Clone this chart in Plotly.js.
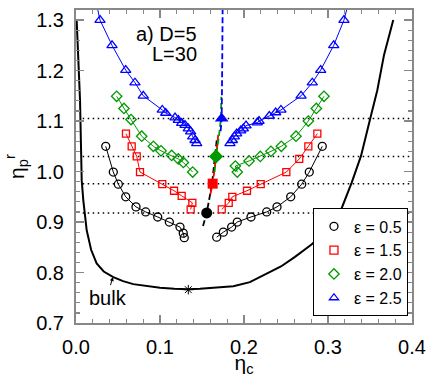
<!DOCTYPE html>
<html>
<head>
<meta charset="utf-8">
<script src="https://cdn.plot.ly/plotly-3.0.1.min.js"></script>
<style>html,body{margin:0;padding:0;background:#fff;}#chart{width:427px;height:377px;}</style>
</head>
<body>
<div id="chart"></div>
<script>
// ---- data ----
const bulkX = [0.0008,0.0025,0.0048,0.0068,0.0087,0.0127,0.0180,0.0246,0.0330,0.0444,0.0560,0.0682,0.0850,0.100,0.1170,0.1337,0.1476,0.1680,0.1873,0.207,0.227,0.2440,0.2607,0.2800,0.2976,0.3143,0.3282,0.3393,0.350,0.3587,0.3667,0.3777];
const bulkY = [1.300,1.220,1.141,0.983,0.943,0.884,0.845,0.818,0.802,0.791,0.783,0.777,0.773,0.770,0.768,0.767,0.768,0.770,0.773,0.781,0.798,0.812,0.831,0.855,0.880,0.919,0.978,1.031,1.103,1.161,1.231,1.300];
const bulkMinX = [0.1337];
const bulkMinY = [0.766];

// eps = 0.5
const e05LeftX = [0.0354,0.0444,0.0504,0.0592,0.0714,0.0830,0.0973,0.1111,0.1238,0.1277,0.1289];
const e05LeftY = [1.050,0.999,0.975,0.950,0.930,0.920,0.910,0.900,0.890,0.878,0.869];
const e05RightX = [0.2932,0.2777,0.2687,0.2556,0.2393,0.2270,0.2083,0.1920,0.1853,0.1754,0.1675];
const e05RightY = [1.050,0.999,0.975,0.950,0.930,0.920,0.910,0.900,0.890,0.880,0.870];
// eps = 1.5
const e15LeftX = [0.0595,0.0663,0.0723,0.0762,0.1027,0.1167,0.1258,0.1385,0.1365];
const e15LeftY = [1.075,1.050,1.030,0.999,0.975,0.962,0.952,0.938,0.925];
const e15RightX = [0.2873,0.2766,0.2658,0.2504,0.2199,0.2036,0.1861,0.1818,0.1735];
const e15RightY = [1.075,1.050,1.025,0.999,0.975,0.962,0.950,0.938,0.925];
// eps = 2.0
const e20LeftX = [0.0484,0.0571,0.0655,0.0782,0.0921,0.1012,0.1139,0.1218,0.1278,0.1389];
const e20LeftY = [1.149,1.125,1.103,1.070,1.050,1.041,1.032,1.025,1.018,0.999];
const e20RightX = [0.2952,0.2861,0.2766,0.2619,0.2444,0.2321,0.2194,0.2060,0.1897,0.1920];
const e20RightY = [1.149,1.125,1.100,1.070,1.050,1.040,1.030,1.021,1.011,0.999];
// eps = 2.5
const e25LeftX = [0.022,0.0286,0.0429,0.0592,0.0702,0.0801,0.1027,0.1068,0.1179,0.1218,0.1258,0.1298,0.1337,0.1365,0.1389,0.1417,0.1437];
const e25LeftY = [1.350,1.300,1.250,1.201,1.176,1.150,1.122,1.116,1.107,1.102,1.096,1.092,1.085,1.079,1.069,1.062,1.056];
const e25RightX = [0.327,0.319,0.3068,0.2913,0.2813,0.2679,0.2440,0.2377,0.2301,0.2179,0.2158,0.2024,0.1992,0.1961,0.1913,0.1885,0.1861,0.1833];
const e25RightY = [1.350,1.300,1.250,1.201,1.176,1.150,1.122,1.117,1.110,1.100,1.097,1.091,1.085,1.081,1.075,1.069,1.062,1.056];

// critical points (filled) and dashed lines
const critX = [0.1556,0.1627,0.1667,0.1734];
const critY = [0.918,0.976,1.030,1.105];
const c05X = [0.1512,0.1556,0.1619,0.1675], c05Y = [0.892,0.918,0.975,1.062];
const c15X = [0.1600,0.1627,0.1670,0.1694], c15Y = [0.955,0.976,1.030,1.075];
const c20X = [0.1650,0.1667,0.1705,0.1726,0.1730], c20Y = [1.000,1.030,1.075,1.105,1.148];
const c25X = [0.1722,0.1734,0.1740,0.1746], c25Y = [1.080,1.105,1.200,1.330];
const dotX = [0.008, 0.4];

const epsLabels = ['ε = 0.5','ε = 1.5','ε = 2.0','ε = 2.5'];
const colors = ['#000000','#ff0000','#009900','#0000ff'];
const symbols = ['circle-open','square-open','diamond-open','triangle-up-open'];
const filledSymbols = ['circle','square','diamond','triangle-up'];

const traces = [];
const FONT = 'Liberation Sans, Arial, sans-serif';

// dotted horizontals
critY.forEach(function(y){
  traces.push({x: dotX, y: [y, y], mode: 'lines', showlegend: false, hoverinfo: 'skip',
    line: {color: '#000', width: 1.5, dash: '1.5px,3.5px'}});
});

// bulk curve
traces.push({x: bulkX, y: bulkY, mode: 'lines', showlegend: false, line: {color: '#000', width: 2}});
traces.push({x: bulkMinX, y: bulkMinY, mode: 'markers', showlegend: false,
  marker: {symbol: 'asterisk-open', size: 8, color: '#000', line: {color: '#000', width: 1}}});

const branches = [
  [e05LeftX,e05LeftY,e05RightX,e05RightY],
  [e15LeftX,e15LeftY,e15RightX,e15RightY],
  [e20LeftX,e20LeftY,e20RightX,e20RightY],
  [e25LeftX,e25LeftY,e25RightX,e25RightY]
];
const sizes = [8,7,8,9];
branches.forEach(function(b, i){
  [[b[0],b[1]],[b[2],b[3]]].forEach(function(p){
    traces.push({x: p[0], y: p[1], mode: 'lines+markers', showlegend: false,
      line: {color: colors[i], width: 1},
      marker: {symbol: symbols[i], size: sizes[i], color: colors[i], line: {color: colors[i], width: 1.3}}});
  });
});

// dashed critical lines
[[c05X,c05Y],[c15X,c15Y],[c20X,c20Y],[c25X,c25Y]].forEach(function(c, i){
  traces.push({x: c[0], y: c[1], mode: 'lines', showlegend: false,
    line: {color: colors[i], width: 1.8, dash: '6px,3px'}});
});
// filled critical points
critX.forEach(function(x, i){
  traces.push({x: [x], y: [critY[i]], mode: 'markers', showlegend: false,
    marker: {symbol: filledSymbols[i], size: [11,10,11,12][i], color: colors[i]}});
});

// legend-only entries
epsLabels.forEach(function(lab, i){
  traces.push({x: [null], y: [null], mode: 'markers', name: lab,
    marker: {symbol: symbols[i], size: 8, color: colors[i], line: {color: colors[i], width: 1.3}}});
});

const axisCommon = {
  showline: true, linecolor: '#888', linewidth: 2, mirror: 'allticks',
  ticks: 'inside', ticklen: 8, tickwidth: 1.5, tickcolor: '#888',
  showgrid: false, zeroline: false, tickformat: '.1f',
  tickfont: {family: FONT, size: 20, color: '#000'}
};

const layout = {
  width: 427, height: 377,
  margin: {l: 76, r: 15, t: 10, b: 54},
  paper_bgcolor: '#fff', plot_bgcolor: '#fff',
  font: {family: FONT, color: '#000'},
  showlegend: true,
  xaxis: Object.assign({}, axisCommon, {
    range: [0, 0.4], dtick: 0.1, tick0: 0,
    minor: {dtick: 0.02, ticks: 'inside', ticklen: 4, tickwidth: 1.2, tickcolor: '#888'},
    ticklabelstandoff: 5,
    title: {text: 'η<sub>c</sub>', font: {family: FONT, size: 21}, standoff: 8}
  }),
  yaxis: Object.assign({}, axisCommon, {
    range: [0.7, 1.32], dtick: 0.1, tick0: 0.7,
    minor: {dtick: 0.02, ticks: 'inside', ticklen: 4, tickwidth: 1.2, tickcolor: '#888'},
    ticklabelstandoff: 6,
    title: {text: 'η<sub>p</sub><sup>r</sup>', font: {family: FONT, size: 21}, standoff: 6}
  }),
  legend: {
    x: 0.988, y: 0.021, xanchor: 'right', yanchor: 'bottom',
    bgcolor: '#fff', bordercolor: '#000', borderwidth: 1,
    font: {family: FONT, size: 16, color: '#000'},
    itemwidth: 30, tracegroupgap: 0
  },
  annotations: [
    {x: 0.1470, y: 1.272, xref: 'x', yref: 'y', xanchor: 'right', yanchor: 'middle', showarrow: false,
     text: 'a) D=5', font: {family: FONT, size: 20}},
    {x: 0.1470, y: 1.232, xref: 'x', yref: 'y', xanchor: 'right', yanchor: 'middle', showarrow: false,
     text: 'L=30', font: {family: FONT, size: 20}},
    {x: 0.0440, y: 0.791, ax: 0.0405, ay: 0.772, xref: 'x', yref: 'y', axref: 'x', ayref: 'y',
     showarrow: true, arrowhead: 2, arrowsize: 0.8, arrowwidth: 1, arrowcolor: '#000', text: ''},
    {x: 0.0385, y: 0.749, xref: 'x', yref: 'y', showarrow: false, text: 'bulk',
     font: {family: FONT, size: 20}}
  ]
};

Plotly.newPlot('chart', traces, layout, {displayModeBar: false, staticPlot: true});
</script>
</body>
</html>
